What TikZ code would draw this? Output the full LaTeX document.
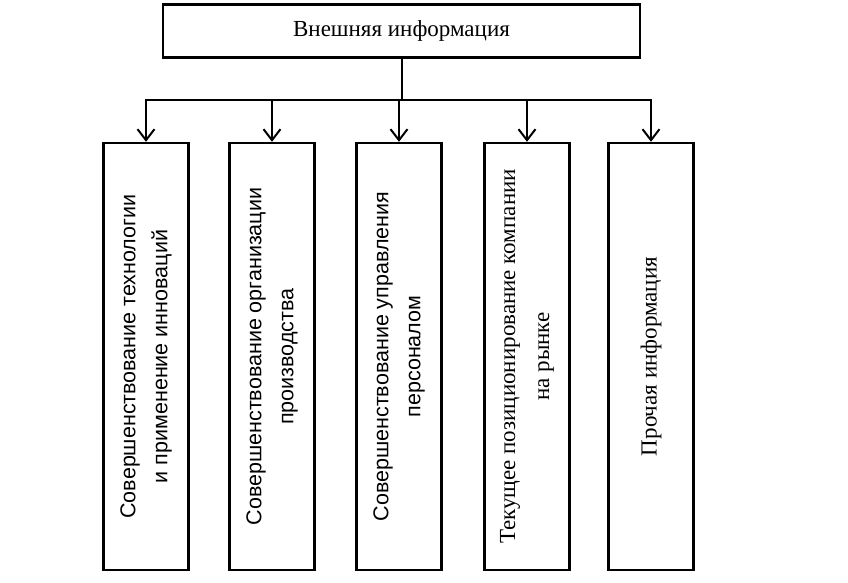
\documentclass[tikz,border=0pt]{standalone}
\usepackage{fontspec}
\setmainfont{Liberation Serif}
\newfontfamily\sansf{Liberation Sans}
\usetikzlibrary{arrows.meta}
\begin{document}
\begin{tikzpicture}[x=1pt,y=-1pt,
  boxst/.style={draw,line width=2.4pt,inner sep=0pt},
  conn/.style={line width=2pt},
  arr/.style={line width=2pt,-{Straight Barb[length=11pt,width=17pt,line width=2pt]}},
  vtext/.style={rotate=90,align=center,inner sep=0pt},
  sertext/.style={font=\fontsize{23}{34}\selectfont},
  santext/.style={font=\sansf\fontsize{21.5}{32}\selectfont}]
\useasboundingbox (0,0) rectangle (848,583);
\node[boxst,minimum width=477pt,minimum height=53pt,sertext] (top) at (401.5,31) {Внешняя информация};
\foreach \n/\x in {b1/146,b2/272,b3/399,b4/527,b5/651}{
  \node[boxst,minimum width=85pt,minimum height=427pt] (\n) at (\x,356.5) {};
}
\node[vtext,santext] (t1) at (b1) {Совершенствование технологии\\и применение инноваций};
\node[vtext,santext] (t2) at (b2) {Совершенствование организации\\производства};
\node[vtext,santext] (t3) at (b3) {Совершенствование управления\\персоналом};
\node[vtext,sertext] (t4) at (b4) {Текущее позиционирование компании\\на рынке};
\node[vtext,sertext] (t5) at (b5) {Прочая информация};
\coordinate (hub) at (top.south |- 0,100);
\coordinate (hl) at (b1.north |- hub);
\coordinate (hr) at (b5.north |- hub);
\draw[conn] (top.south) -- (hub);
\draw[conn] ([xshift=-1pt]hl) -- ([xshift=1pt]hr);
\foreach \n in {b1,b2,b3,b4,b5}{
  \draw[arr] (\n.north |- hub) -- (\n.north);
}
\end{tikzpicture}
\end{document}
